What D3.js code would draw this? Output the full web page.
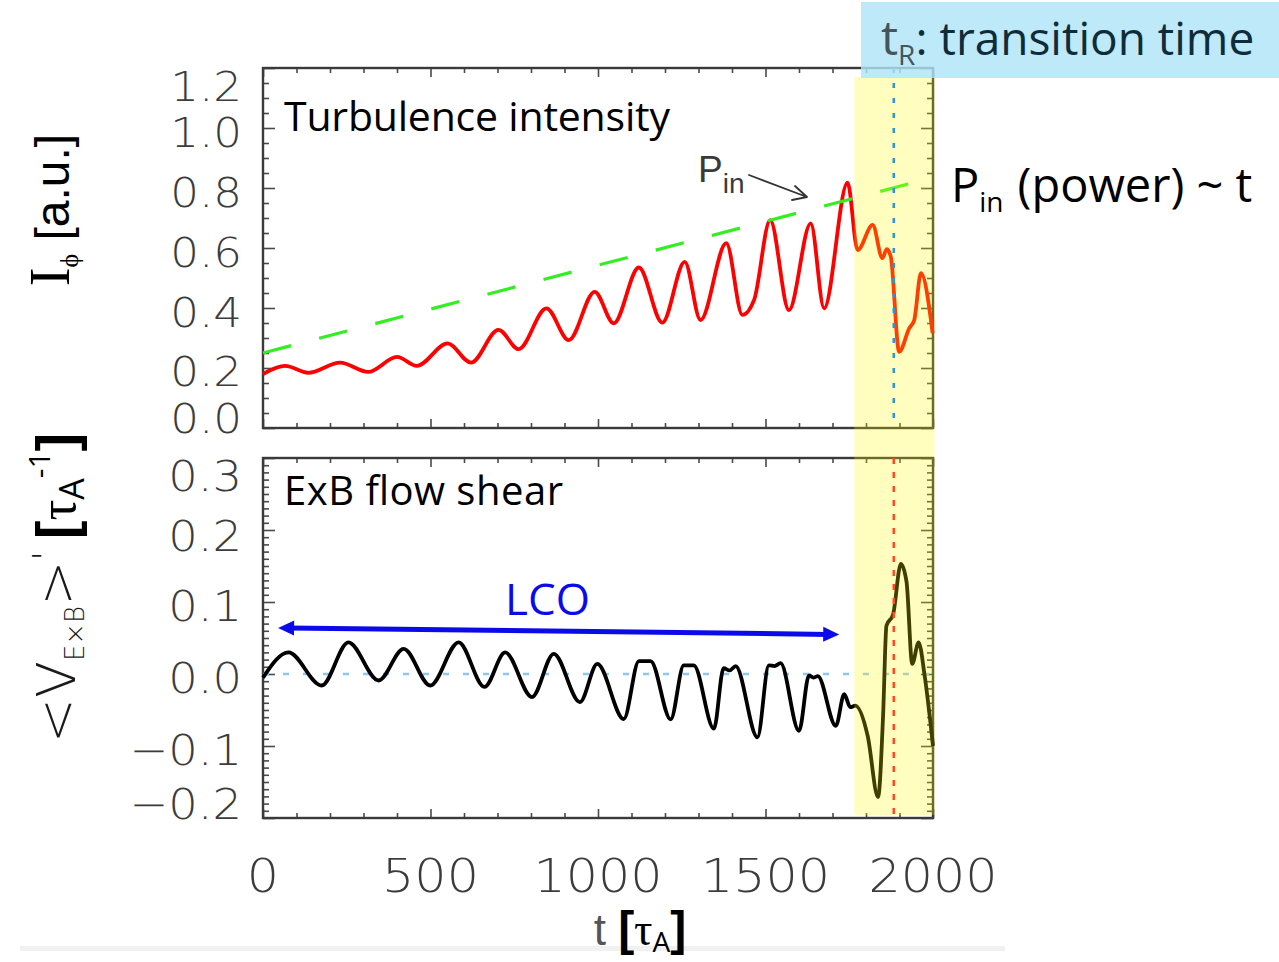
<!DOCTYPE html>
<html><head><meta charset="utf-8">
<script src="https://cdn.jsdelivr.net/npm/d3@7"></script>
<style>
html,body{margin:0;padding:0;background:#fff;}
svg{display:block;}
</style>
</head><body>
<svg id="chart" width="1279" height="962"></svg>
<script>
// ---------------- data ----------------
const intensityT = [0,66,135,230,314,400,459,551,621,703,763,846,913,990,1047,1122,1192,1259,1306,1383,1431,1466,1514,1570,1635,1675,1745,1775,1820,1849,1862,1874,1899,1929,1944,1964,1999];
const intensity  = [0.18,0.207,0.184,0.218,0.187,0.237,0.207,0.282,0.218,0.327,0.263,0.399,0.293,0.454,0.349,0.535,0.351,0.554,0.36,0.616,0.377,0.427,0.693,0.393,0.682,0.399,0.818,0.593,0.677,0.566,0.596,0.571,0.254,0.332,0.36,0.516,0.316];

const powerT = [0,2000];
const power  = [0.25,0.835];

const shearT = [0,76,175,255,345,420,499,584,661,723,803,868,946,998,1077,1122,1157,1217,1256,1286,1346,1375,1393,1411,1476,1510,1527,1545,1600,1630,1643,1656,1710,1735,1753,1768,1805,1836,1851,1861,1881,1904,1921,1938,1957,1975,2000];
const shear  = [-0.005,0.030,-0.016,0.044,-0.009,0.035,-0.016,0.044,-0.018,0.030,-0.032,0.028,-0.039,0.014,-0.0625,0.018,0.018,-0.063,0.012,0.012,-0.076,0.008,0.005,0.011,-0.088,0.012,0.011,0.015,-0.079,-0.002,-0.005,-0.003,-0.072,-0.028,-0.046,-0.044,-0.086,-0.171,-0.058,0.067,0.083,0.153,0.128,0.014,0.044,-0.002,-0.1];

const xTickValues = [0,500,1000,1500,2000];
const xTickLabels = ["0","500","1000","1500","2000"];
const topTickValues = [0,0.2,0.4,0.6,0.8,1.0,1.2];
const topTickLabels = ["0.0","0.2","0.4","0.6","0.8","1.0","1.2"];
const botTickValues = [-0.2,-0.1,0,0.1,0.2,0.3];
const botTickLabels = ["\u22120.2","\u22120.1","0.0","0.1","0.2","0.3"];

const transitionT = 1883;        // t_R
const lcoSpan = [45, 1720];      // LCO arrow extent (t)
const lcoLevel = [0.064, 0.055]; // LCO arrow heights (shear units)
const yellowSpan = [1765, 2005]; // highlighted transition window (t)

// ---------------- setup ----------------
const svg = d3.select("#chart");
const X0 = 263, X1 = 933;
const x = d3.scaleLinear().domain([0,2000]).range([X0,X1]);
const yT = d3.scaleLinear().domain([0,1.2]).range([428,68]);
const yB = d3.scaleLinear().domain([-0.2,0.3]).range([818,458]);

const FRAME = "#3a3a3a", TICK = "#4a4a4a", LABEL = "#3c3c3c";
const TICKFONT = "DejaVu Sans, Liberation Sans, sans-serif";

// faint bottom band
svg.append("rect").attr("x",20).attr("y",946).attr("width",985).attr("height",5).attr("fill","#f1f1f1");

function panel(y, minorY, majorY, yLen){
  const g = svg.append("g");
  const [yb, yt] = y.range();
  const mk = (axis, tr, vals, len) => {
    const a = g.append("g").attr("transform", tr)
      .call(axis.tickValues(vals).tickSize(-len).tickFormat(""));
    a.select(".domain").remove();
    a.selectAll("line").attr("stroke", TICK).attr("stroke-width",1.6);
  };
  const xMinor = d3.range(0,2001,100).filter(v=>v%500!==0);
  mk(d3.axisBottom(x), `translate(0,${yb})`, xMinor, 5);
  mk(d3.axisBottom(x), `translate(0,${yb})`, xTickValues, 9);
  mk(d3.axisTop(x), `translate(0,${yt})`, xMinor, 5);
  mk(d3.axisTop(x), `translate(0,${yt})`, xTickValues, 9);
  mk(d3.axisLeft(y), `translate(${X0},0)`, minorY, 6);
  mk(d3.axisLeft(y), `translate(${X0},0)`, majorY, yLen);
  mk(d3.axisRight(y), `translate(${X1},0)`, minorY, 6);
  mk(d3.axisRight(y), `translate(${X1},0)`, majorY, yLen);
  g.append("rect").attr("x",X0).attr("y",yt).attr("width",X1-X0).attr("height",yb-yt)
    .attr("fill","none").attr("stroke",FRAME).attr("stroke-width",2.4);
}
const topMinor = d3.range(0,25).map(i=>+(i*0.05).toFixed(2)).filter(v=>!topTickValues.some(t=>Math.abs(t-v)<1e-6));
const botMinor = d3.range(0,51).map(i=>+(-0.2+i*0.01).toFixed(2)).filter(v=>!botTickValues.some(t=>Math.abs(t-v)<1e-6));
panel(yT, topMinor, topTickValues, 12);
panel(yB, botMinor, botTickValues, 12);

// tick labels (thin IDL-like font)
function tickText(tx, ty, anchor, size, label, sx){
  svg.append("text").attr("transform",`translate(${tx},${ty}) scale(${sx||1.08},1)`)
    .attr("text-anchor",anchor)
    .attr("font-family",TICKFONT).attr("font-weight",200).attr("font-size",size)
    .attr("fill",LABEL).text(label);
}
const yLabOffTop = {0:-11, 0.2:2, 1.2:17};
topTickValues.forEach((v,i)=>{
  const dy = (yLabOffTop[v] !== undefined ? yLabOffTop[v] : 3);
  tickText(242, yT(v)+dy+16, "end", 40, topTickLabels[i], 1.13);
});
const yLabOffBot = {"-0.2":-15, "0.3":17, "0.2":5};
botTickValues.forEach((v,i)=>{
  const k = String(v);
  const dy = (yLabOffBot[k] !== undefined ? yLabOffBot[k] : 3);
  tickText(242, yB(v)+dy+16, "end", 43, botTickLabels[i]);
});
xTickValues.forEach((v,i)=>{
  tickText(x(v), 892, "middle", 47, xTickLabels[i]);
});

// zero dotted line
svg.append("line").attr("x1",X0).attr("x2",X1).attr("y1",yB(0)).attr("y2",yB(0))
  .attr("stroke","#8ec6f0").attr("stroke-width",2.5).attr("stroke-dasharray","6,14");

// curves
const lineT = d3.line().x((d,i)=>x(intensityT[i])).y(d=>yT(d)).curve(d3.curveMonotoneX);
svg.append("path").attr("d",lineT(intensity)).attr("fill","none").attr("stroke","#ff0000").attr("stroke-width",3.8).attr("stroke-linejoin","round");
const lineP = d3.line().x((d,i)=>x(powerT[i])).y(d=>yT(d));
svg.append("path").attr("d",lineP(power)).attr("fill","none").attr("stroke","#33ee22").attr("stroke-width",3.2).attr("stroke-dasharray","29,29");
const lineB = d3.line().x((d,i)=>x(shearT[i])).y(d=>yB(d)).curve(d3.curveMonotoneX);
svg.append("path").attr("d",lineB(shear)).attr("fill","none").attr("stroke","#000").attr("stroke-width",3.8).attr("stroke-linejoin","round");

// yellow highlight
svg.append("rect").attr("x",x(yellowSpan[0])).attr("y",77).attr("width",x(yellowSpan[1])-x(yellowSpan[0])).attr("height",815-77)
  .attr("fill","rgb(255,250,0)").attr("fill-opacity",0.25);

// transition lines
svg.append("line").attr("x1",x(transitionT)).attr("x2",x(transitionT)).attr("y1",yT(1.2)).attr("y2",yT(0))
  .attr("stroke","#2f95d6").attr("stroke-width",2.6).attr("stroke-dasharray","5,10");
svg.append("line").attr("x1",x(transitionT)).attr("x2",x(transitionT)).attr("y1",yB(0.3)).attr("y2",yB(-0.2))
  .attr("stroke","#ff4a2a").attr("stroke-width",2.6).attr("stroke-dasharray","6,8");

// LCO arrow
const ax1 = x(lcoSpan[0]), ax2 = x(lcoSpan[1]), ay1 = yB(lcoLevel[0]), ay2 = yB(lcoLevel[1]);
const BLUE = "#0b0bea";
svg.append("line").attr("x1",ax1+10).attr("y1",ay1).attr("x2",ax2-10).attr("y2",ay2).attr("stroke",BLUE).attr("stroke-width",5);
const ang = Math.atan2(ay2-ay1, ax2-ax1);
function head(px,py,dir){
  const L=16, W=7.5;
  const c=Math.cos(ang)*dir, s=Math.sin(ang)*dir;
  const bx=px-L*c, by=py-L*s;
  svg.append("path").attr("d",`M${px},${py}L${bx-W*s},${by+W*c}L${bx+W*s},${by-W*c}Z`).attr("fill",BLUE);
}
head(ax2,ay2,1); head(ax1,ay1,-1);
svg.append("text").attr("x",505).attr("y",615).attr("font-family","Open Sans, sans-serif").attr("font-size",44).attr("fill",BLUE).text("LCO");

// panel titles
svg.append("text").attr("x",284).attr("y",131).attr("font-family","Open Sans, sans-serif").attr("font-size",41).attr("fill","#000").attr("textLength",386).text("Turbulence intensity");
svg.append("text").attr("x",284).attr("y",505).attr("font-family","Open Sans, sans-serif").attr("font-size",40).attr("fill","#000").attr("textLength",279).text("ExB flow shear");

// P_in annotation with arrow
const pin = svg.append("text").attr("x",698).attr("y",182).attr("font-family","Liberation Sans, Arial, sans-serif").attr("fill","#3a3a3a");
pin.append("tspan").attr("font-size",37).text("P");
pin.append("tspan").attr("font-size",28).attr("dy",11).text("in");
svg.append("path").attr("d","M749,175L807,197M807,197L795,186M807,197L792,200").attr("fill","none").attr("stroke","#333").attr("stroke-width",1.8).attr("stroke-linecap","round");

// P_in (power) ~ t
const pw = svg.append("text").attr("x",951).attr("y",202).attr("font-family","Open Sans, sans-serif").attr("fill","#000");
pw.append("tspan").attr("font-size",47).text("P");
pw.append("tspan").attr("font-size",28).attr("dy",10).text("in");
pw.append("tspan").attr("font-size",47).attr("dy",-10).attr("dx",14).text("(power) ~ t");

// t_R box
svg.append("rect").attr("x",861).attr("y",2).attr("width",418).attr("height",76).attr("fill","rgb(175,228,246)").attr("fill-opacity",0.82);
const tr = svg.append("text").attr("x",881).attr("y",55).attr("font-family","Open Sans, sans-serif").attr("fill","#0e2c3a");
tr.append("tspan").attr("font-size",48).attr("fill","#45555c").text("t");
tr.append("tspan").attr("font-size",28).attr("dy",10).attr("fill","#45555c").text("R");
tr.append("tspan").attr("font-size",46).attr("dy",-10).text(":");
tr.append("tspan").attr("font-size",46).attr("dx",12).text("transition time");

// y axis titles
const t1 = svg.append("text").attr("transform","translate(69,210) rotate(-90)").attr("text-anchor","middle").attr("fill","#000");
t1.append("tspan").attr("font-family","Liberation Serif, serif").attr("font-size",56).text("I");
t1.append("tspan").attr("font-family","Liberation Serif, serif").attr("font-size",26).attr("dy",9).text("\u03D5");
t1.append("tspan").attr("font-family","Liberation Sans, Arial, sans-serif").attr("font-size",48).attr("dy",-9).text(" [a.u.]");

const t2 = svg.append("text").attr("transform","translate(75,588) rotate(-90)").attr("text-anchor","middle").attr("fill","#000");
t2.append("tspan").attr("font-family",TICKFONT).attr("font-weight",200).attr("font-size",54).attr("fill","#1a1a1a").text("<V");
t2.append("tspan").attr("font-family",TICKFONT).attr("font-weight",300).attr("font-size",26).attr("dy",9).attr("fill","#1a1a1a").text("E\u00D7B");
t2.append("tspan").attr("font-family",TICKFONT).attr("font-weight",200).attr("font-size",54).attr("dy",-9).attr("fill","#1a1a1a").text(">");
t2.append("tspan").attr("font-family",TICKFONT).attr("font-weight",200).attr("font-size",34).attr("dy",-18).attr("fill","#1a1a1a").text("'");
t2.append("tspan").attr("font-family","Liberation Sans, Arial, sans-serif").attr("font-size",56).attr("font-weight","bold").attr("dy",18).attr("dx",12).text("[");
t2.append("tspan").attr("font-family","Liberation Serif, serif").attr("font-size",52).text("\u03C4");
t2.append("tspan").attr("font-family","Open Sans, sans-serif").attr("font-size",34).attr("dy",9).text("A");
t2.append("tspan").attr("font-family","Open Sans, sans-serif").attr("font-size",30).attr("dy",-34).text("-1");
t2.append("tspan").attr("font-family","Liberation Sans, Arial, sans-serif").attr("font-size",56).attr("font-weight","bold").attr("dy",25).text("]");

// x axis title
const t3 = svg.append("text").attr("x",640).attr("y",945).attr("text-anchor","middle").attr("fill","#000");
t3.append("tspan").attr("font-family","Liberation Sans, Arial, sans-serif").attr("font-size",44).attr("fill","#555").text("t ");
t3.append("tspan").attr("font-family","Liberation Sans, Arial, sans-serif").attr("font-size",48).attr("font-weight","bold").text("[");
t3.append("tspan").attr("font-family","Liberation Serif, serif").attr("font-size",46).text("\u03C4");
t3.append("tspan").attr("font-family","Open Sans, sans-serif").attr("font-size",28).attr("dy",7).text("A");
t3.append("tspan").attr("font-family","Liberation Sans, Arial, sans-serif").attr("font-size",48).attr("font-weight","bold").attr("dy",-7).text("]");
</script>
</body></html>
